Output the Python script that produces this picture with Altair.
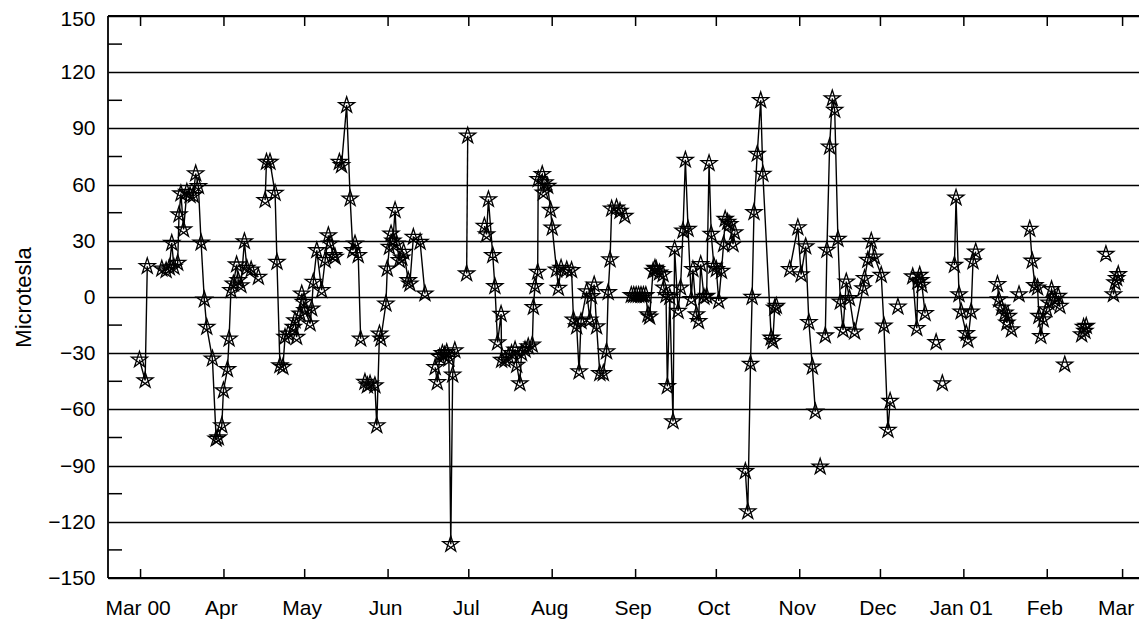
import json
import altair as alt
import pandas as pd

# Month ticks (days since 1 Mar 2000) and their labels
MONTH_DAYS = [0, 31, 61, 92, 122, 153, 184, 214, 245, 275, 306, 337, 365]
MONTH_LABELS = ["Mar 00", "Apr", "May", "Jun", "Jul", "Aug", "Sep", "Oct",
                "Nov", "Dec", "Jan 01", "Feb", "Mar"]
Y_TICKS = [-150, -120, -90, -60, -30, 0, 30, 60, 90, 120, 150]
Y_MINOR = [-135, -105, -75, -45, -15, 15, 45, 75, 105, 135]

# Observations: day since 1 Mar 2000 and field in microtesla.
# None separates runs that are drawn as separate connected lines.
DAYS = [
    -0.4, 1.7, 2.5, None,
    7.9, 9.5, 10.7, 11.6, 12.4, 13.8, 14.3, 15.0, 16.0, 17.2, 18.4, 19.6, 20.5, 21.5,
    22.5, 23.7, 24.6, 26.7, 28.1, 28.9, 30.2, 30.8, 32.3, 32.9, 33.6, 34.5, 35.7, 36.3,
    37.3, 38.6, 39.5, 41.1, 43.8, None,
    46.3, 46.8, 48.1, 50.0, 50.7, 51.8, 52.9, 53.7, 54.9, 56.8, 57.4, 58.0, 59.3, 59.9,
    60.5, 61.1, 63.0, 63.6, 64.2, 65.5, 67.3, 68.6, 69.8, 70.4, 71.7, 72.3, None,
    73.9, 74.7, 76.6, 77.9, 78.9, 79.7, 80.9, 81.8, None,
    83.4, 84.3, 85.3, 87.1, 87.8, 88.8, 89.3, 91.2, 91.7, 92.5, 93.1, 93.8, 94.6, 95.2,
    96.2, 97.1, 97.8, 99.5, 100.1, 101.4, 103.9, 105.7, None,
    109.5, 110.3, 111.2, 112.2, 113.0, 113.8, 114.6, 115.3, 116.0, 116.8, None,
    121.2, 121.6, None,
    127.8, 128.6, 129.3, 130.9, 131.7, 132.7, 134.0, 134.2, 135.5, 136.7, 137.9, 139.2,
    139.8, 141.0, 141.6, 142.9, 144.1, 145.6, 146.0, 146.6, 147.6, 147.8, 149.3, 149.7,
    150.3, 151.3, 152.4, 153.0, 154.6, 155.3, 156.3, 158.4, 160.2, 160.9, 162.1, 163.0,
    163.7, 165.8, 167.0, 167.6, 168.6, 169.5, 170.7, 172.0, 173.2, 173.8, 174.5, 175.1,
    176.9, 178.2, 180.0, None,
    182.4, 183.3, 184.2, 185.1, 186.0, 186.9, 187.8, 188.6, 189.2, 190.5, 191.2, 191.7,
    192.9, 194.2, 194.5, 195.3, 195.8, 196.7, 197.9, 198.5, 199.8, 200.7, 201.6, 202.5,
    203.5, 204.7, 205.3, 206.6, 207.4, 208.2, 209.4, 210.4, 211.3, 212.1, 213.1, 214.0,
    214.9, 215.9, 216.7, 217.3, 218.2, 219.0, 220.2, 220.8, None,
    224.8, 225.7, 226.7, 227.3, 228.0, 229.2, 230.5, 231.3, 234.4, 235.0, 235.7, 236.3, None,
    241.3, 244.3, 245.5, 247.2, 248.4, 249.7, 250.8, None,
    252.6, None,
    254.5, 255.1, 256.1, 257.1, 258.0, 259.2, 260.1, 261.1, 262.3, 263.5, 265.4, 268.5,
    269.1, 270.3, 271.6, 272.8, 275.3, 276.3, 277.8, 278.6, None,
    281.5, None,
    287.0, 288.5, 288.9, 289.6, 290.0, 290.4, 291.6, None,
    295.7, None,
    298.0, None,
    302.5, 303.1, 304.2, 305.0, 306.9, 307.5, 308.7, 309.4, 310.4, None,
    318.5, 319.0, 320.0, 321.3, 322.0, 322.5, 323.7, None,
    326.5, None,
    330.5, 331.4, 332.4, 333.4, 333.9, 334.6, 335.5, 336.8, 337.6, 338.6, 339.8, 341.1,
    341.7, None,
    343.5, None,
    349.8, 350.5, 351.0, 351.5, None,
    358.8, None,
    361.6, 362.2, 362.8, 363.4,
]
MICROTESLA = [
    -33.5, -44.5, 16.4, None,
    15.1, 14.2, 15.7, 28.8, 16.0, 18.2, 44.0, 55.2, 36.0, 56.1, 54.3, 54.3, 65.9, 59.1,
    29.0, -1.4, -16.0, -32.9, -75.7, -75.0, -68.6, -49.9, -38.6, -22.3, 3.6, 7.1, 17.3, 8.9,
    6.2, 29.7, 15.5, 14.6, 10.7, None,
    51.7, 72.1, 72.1, 55.5, 18.7, -36.5, -37.4, -21.4, -19.6, -16.0, -12.5, -21.4, -8.9, 1.8,
    -2.7, -7.1, -14.2, -6.2, 8.0, 24.9, 3.6, 19.6, 32.9, 28.5, 22.3, 21.4, None,
    72.1, 70.3, 102.4, 52.5, 24.9, 28.5, 22.3, -22.3, None,
    -45.4, -47.2, -46.3, -47.2, -68.6, -19.6, -22.3, -3.6, 15.1, 26.7, 33.8, 30.0, 46.3, 28.5,
    19.6, 21.0, 24.0, 8.9, 7.1, 32.0, 29.4, 1.8, None,
    -37.5, -45.5, -32.0, -30.0, -31.0, -29.5, -33.0, -132.0, -41.5, -28.5, None,
    12.5, 86.1, None,
    37.9, 33.4, 52.1, 22.3, 5.7, -24.3, -9.1, -33.6, -33.6, -31.8, -30.0, -28.2,
    -36.3, -46.1, -30.0, -28.2, -26.4, -25.5, -5.4, 5.7, 13.4, 62.9, 65.5, 55.7,
    61.1, 59.3, 46.4, 37.0, 14.6, 4.8, 15.5, 14.6, 14.3, -12.1, -15.7, -39.8,
    -13.0, 3.0, -12.1, 0.4, 6.6, -15.7, -40.7, -40.7, -29.1, 2.5, 20.0, 47.1,
    47.7, 45.9, 43.2, None,
    1.0, 1.0, 1.0, 1.0, 1.0, 1.0, 1.0, -9.3, -10.5, 13.9, 15.5, 14.8,
    13.0, 12.1, 5.0, 1.0, -47.7, 0.0, -66.4, 25.5, -7.5, 5.0, 35.4, 73.2,
    36.3, -1.2, 14.8, -9.3, -12.9, 17.5, 0.0, 0.5, 71.4, 33.6, 16.6, 14.8,
    -2.1, 13.9, 28.2, 41.6, 40.0, 38.9, 28.2, 34.5, None,
    -93.0, -114.5, -35.7, 0.0, 45.2, 76.4, 105.0, 65.7, -21.8, -23.6, -5.7, -4.8, None,
    14.8, 37.1, 12.0, 27.0, -13.5, -37.2, -61.2, None,
    -90.6, None,
    -20.6, 25.1, 80.2, 106.0, 99.8, 31.0, -2.5, -17.6, 8.2, -0.7, -18.5, 4.6,
    10.0, 19.8, 29.9, 21.5, 11.7, -15.3, -71.0, -55.5, None,
    -5.2, None,
    10.9, -16.7, 8.2, 11.7, 9.0, 6.4, -8.7, None,
    -24.2, None,
    -46.1, None,
    17.1, 53.0, 1.4, -7.8, -19.4, -23.0, -7.8, 18.9, 24.2, None,
    6.8, -1.3, -5.7, -8.4, -13.8, -10.2, -17.3, None,
    1.4, None,
    36.3, 19.3, 6.3, 5.0, -10.2, -20.9, -12.0, -6.6, -3.0, 4.1, -1.3, 0.5,
    -4.8, None,
    -36.1, None,
    -20.0, -16.0, -18.2, -15.5, None,
    22.9, None,
    1.4, 7.7, 10.0, 12.1,
]

rows, seg = [], 0
for d, v in zip(DAYS, MICROTESLA):
    if d is None or v is None:
        seg += 1
        continue
    rows.append({"day": d, "value": v, "seg": seg})
df = pd.DataFrame(rows)

W, H = 1031, 562
PX_PER_DAY = 2.6905
X_MIN = -12.1
X_MAX = X_MIN + W / PX_PER_DAY
FONT = "Liberation Sans"
STAR = "M0,-1L0.588,0.809L-0.951,-0.309L0.951,-0.309L-0.588,0.809Z"

label_expr = f"{json.dumps(MONTH_LABELS)}[indexof({json.dumps(MONTH_DAYS)}, datum.value)]"

x_enc = alt.X(
    "day:Q",
    scale=alt.Scale(domain=[X_MIN, X_MAX], nice=False, zero=False),
    axis=alt.Axis(values=MONTH_DAYS, labelExpr=label_expr, ticks=False, tickSize=0,
                  domain=False, grid=False, labelFont=FONT, labelFontSize=21,
                  labelColor="black", labelPadding=19, labelOverlap=False,
                  labelOffset={"condition": {"test": "datum.value >= 365", "value": -7},
                               "value": -3},
                  labelFlush=False, title=None),
)
y_enc = alt.Y(
    "value:Q",
    scale=alt.Scale(domain=[-150, 150], nice=False, zero=False),
    axis=alt.Axis(values=Y_TICKS, ticks=False, tickSize=0, domain=False, grid=True,
                  gridColor="black", gridWidth=1.4, gridOpacity=1,
                  labelFont=FONT, labelFontSize=21, labelColor="black", labelPadding=13,
                  labelOffset={"condition": {"test": "datum.value >= 150", "value": 3},
                               "value": 0.5},
                  title="Microtesla", titleFont=FONT, titleFontSize=22,
                  titleFontWeight="normal", titleColor="black", titleAngle=270,
                  titleX=-78, titleY=H / 2, titleAlign="center",
                  titleBaseline="alphabetic"),
)

lines = alt.Chart(df).mark_line(color="black", strokeWidth=1.4).encode(
    x=x_enc, y=y_enc, detail="seg:N"
)
stars = alt.Chart(df).mark_point(
    shape=STAR, filled=False, size=280, color="black", strokeWidth=1.3, opacity=1
).encode(x=x_enc, y=y_enc)

month_df = pd.DataFrame({"day": MONTH_DAYS})
top_ticks = alt.Chart(month_df).mark_rule(color="black", strokeWidth=1.5).encode(
    x=x_enc, y=alt.value(0), y2=alt.value(10)
)
bottom_ticks = alt.Chart(month_df).mark_rule(color="black", strokeWidth=1.5).encode(
    x=x_enc, y=alt.value(H), y2=alt.value(H - 9)
)
minor_df = pd.DataFrame({"value": Y_MINOR})
left_ticks = alt.Chart(minor_df).mark_rule(color="black", strokeWidth=1.5).encode(
    y=y_enc, x=alt.value(0), x2=alt.value(14)
)

# frame on three sides (the right side runs off the page in the original)
edge_df = pd.DataFrame({"edge": [0]})
frame_top = alt.Chart(edge_df).mark_rule(color="black", strokeWidth=1.8).encode(
    x=alt.value(0), x2=alt.value(W), y=alt.value(0)
)
frame_bottom = alt.Chart(edge_df).mark_rule(color="black", strokeWidth=1.8).encode(
    x=alt.value(0), x2=alt.value(W), y=alt.value(H)
)
frame_left = alt.Chart(edge_df).mark_rule(color="black", strokeWidth=1.8).encode(
    x=alt.value(0), y=alt.value(0), y2=alt.value(H)
)

chart = (
    alt.layer(lines, stars, top_ticks, bottom_ticks, left_ticks,
              frame_top, frame_bottom, frame_left)
    .properties(
        width=W, height=H,
        autosize=alt.AutoSizeParams(type="none"),
        padding={"left": 100, "top": 8, "right": 0, "bottom": 41},
        background="white",
    )
    .configure_view(strokeWidth=0)
)

chart.save("out.html", embed_options={"renderer": "svg", "actions": False})
